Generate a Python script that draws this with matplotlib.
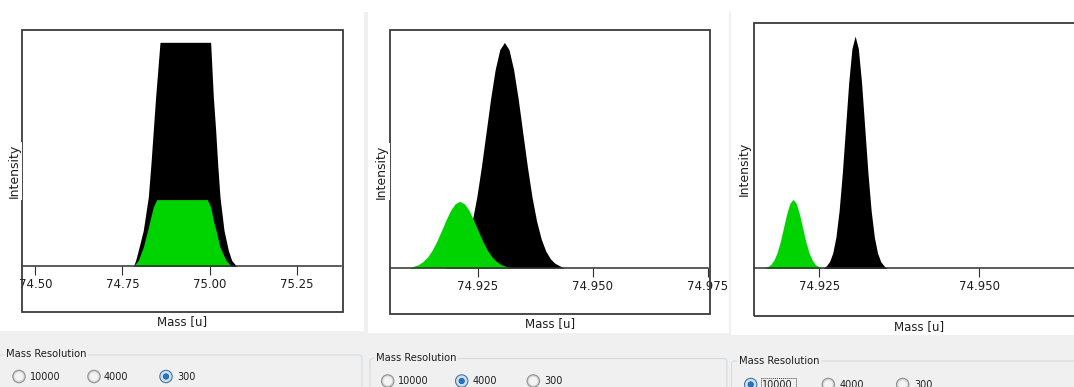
import matplotlib
matplotlib.use("Agg")
import matplotlib.pyplot as plt
from matplotlib.patches import Rectangle, Circle, FancyBboxPatch

# ---------------- data ----------------
resolution_options = ["10000", "4000", "300"]
panel_selected = ["300", "4000", "10000"]

# Panel 1 (resolution 300)
p1_black_mass = [74.7813, 74.7880, 74.7956, 74.8099, 74.8243, 74.8319, 74.8386, 74.8453, 74.8578,
                 75.0031, 75.0108, 75.0175, 75.0232, 75.0299, 75.0414, 75.0538, 75.0634, 75.0777]
p1_black_int = [0, 2.7, 7.2, 16.1, 31.0, 45.9, 60.8, 75.7, 100,
                100, 75.7, 60.8, 45.9, 31.0, 16.1, 7.2, 2.7, 0]
p1_green_mass = [74.7813, 74.7956, 74.8099, 74.8224, 74.8291, 74.8386, 74.8482,
                 74.9936, 75.0031, 75.0108, 75.0184, 75.0299, 75.0471, 75.0634]
p1_green_int = [0, 2.7, 8.6, 16.1, 20.6, 26.5, 29.8,
                29.8, 26.5, 20.6, 16.1, 8.6, 2.7, 0]

# Panel 2 (resolution 4000)
p2_black_mass = [74.9178, 74.9188, 74.9198, 74.9208, 74.9218, 74.9228, 74.9238, 74.9248, 74.9258,
                 74.9268, 74.9278, 74.9288, 74.9298, 74.9308, 74.9318, 74.9328, 74.9338, 74.9348,
                 74.9358, 74.9368, 74.9378, 74.9388, 74.9398, 74.9408, 74.9418, 74.9428, 74.9438]
p2_black_int = [0, 1.0, 2.1, 4.1, 7.5, 12.9, 20.8, 31.5, 44.9, 59.9, 75.0, 88.0, 96.8, 100,
                96.8, 88.0, 75.0, 59.9, 44.9, 31.5, 20.8, 12.9, 7.5, 4.1, 2.1, 1.0, 0]
p2_green_mass = [74.9101, 74.9111, 74.9121, 74.9131, 74.9141, 74.9151, 74.9161, 74.9171, 74.9181,
                 74.9191, 74.9201, 74.9211, 74.9221, 74.9231, 74.9241, 74.9251, 74.9261, 74.9271,
                 74.9281, 74.9291, 74.9301, 74.9311, 74.9321]
p2_green_int = [0, 0.8, 1.5, 2.9, 4.9, 7.9, 11.9, 16.5, 21.3, 25.6, 28.5, 29.6,
                28.5, 25.6, 21.3, 16.5, 11.9, 7.9, 4.9, 2.9, 1.5, 0.8, 0]

# Panel 3 (resolution 10000)
p3_black_mass = [74.9256, 74.9261, 74.9266, 74.9271, 74.9276, 74.9281, 74.9286, 74.9291, 74.9296,
                 74.9301, 74.9306, 74.9311, 74.9316, 74.9321, 74.9326, 74.9331, 74.9336, 74.9341,
                 74.9346, 74.9351, 74.9356]
p3_black_int = [0, 1.1, 2.9, 6.6, 13.5, 24.9, 41.1, 60.7, 80.1, 94.6, 100,
                94.6, 80.1, 60.7, 41.1, 24.9, 13.5, 6.6, 2.9, 1.1, 0]
p3_green_mass = [74.9164, 74.9169, 74.9174, 74.9179, 74.9184, 74.9189, 74.9194, 74.9199, 74.9204,
                 74.9209, 74.9214, 74.9219, 74.9224, 74.9229, 74.9234, 74.9239, 74.9244, 74.9249,
                 74.9254]
p3_green_int = [0, 0.7, 1.6, 3.5, 6.7, 11.5, 17.4, 23.4, 28.0, 29.7,
                28.0, 23.4, 17.4, 11.5, 6.7, 3.5, 1.6, 0.7, 0]

ticks_p1 = [74.50, 74.75, 75.00, 75.25]
ticks_p2 = [74.925, 74.950, 74.975]
ticks_p3 = [74.925, 74.950, 74.975]

xlabel_text = "Mass [u]"
ylabel_text = "Intensity"
group_title = "Mass Resolution"

# ---------------- layout / style ----------------
W, H = 1074, 387
BG = "#f0f0f0"
BLACK = "#000000"
GREEN = "#00d400"
FRAME = "#3a3a3a"
TXT = "#1e1e1e"

fig = plt.figure(figsize=(W / 100, H / 100), dpi=100, facecolor=BG)


def fx(x):
    return x / W


def fy(y):
    return 1 - y / H


# background UI axes in pixel coordinates
bg = fig.add_axes([0, 0, 1, 1], zorder=-5)
bg.set_xlim(0, W)
bg.set_ylim(H, 0)
bg.axis("off")
bg.set_facecolor(BG)

for (l, t, r, b) in [(0, 0, W, 12), (0, 12, 363.5, 330.5), (368, 12, 728.5, 332.5), (731, 12, W, 335)]:
    bg.add_patch(Rectangle((l, t), r - l, b - t, facecolor="white", edgecolor="none"))

# group boxes
groups = [
    dict(box=(-10, 355, 362, 410), title=(6, 354), radio_y=376.5,
         circles=[19, 94, 166], labels=[30, 104, 177]),
    dict(box=(370, 358.5, 727, 410), title=(376, 358), radio_y=381,
         circles=[387.7, 461.7, 533.3], labels=[398.3, 472.3, 544]),
    dict(box=(731.5, 361, 1090, 410), title=(739, 361.5), radio_y=384.5,
         circles=[750.7, 828.3, 902.7], labels=[762.3, 839.3, 914.3]),
]

for g, sel in zip(groups, panel_selected):
    l, t, r, b = g["box"]
    bg.add_patch(FancyBboxPatch((l, t), r - l, b - t,
                                boxstyle="round,pad=0,rounding_size=3",
                                fill=False, edgecolor="#d5dbe0", lw=0.8))
    bg.text(g["title"][0], g["title"][1], group_title, ha="left", va="center",
            fontsize=7.2, color=TXT,
            bbox=dict(facecolor=BG, edgecolor="none", pad=1.2))
    cy = g["radio_y"]
    for cx, lx, opt in zip(g["circles"], g["labels"], resolution_options):
        selected = (opt == sel)
        bg.add_patch(Circle((cx, cy), 6.2, facecolor="#d9d9d9",
                            edgecolor="#3d7bad" if selected else "#8f8f8f", lw=0.8))
        bg.add_patch(Circle((cx, cy), 4.3, facecolor="#cfe6f8" if selected else "#f3f3f3",
                            edgecolor="none"))
        if selected:
            bg.add_patch(Circle((cx, cy), 2.7, facecolor="#1f78cf", edgecolor="#15528f", lw=0.5))
        bg.text(lx, cy + 0.5, opt, ha="left", va="center", fontsize=7, color=TXT)
        if selected and opt == "10000":
            bg.add_patch(Rectangle((lx - 1.5, cy - 6.5), 35, 14, fill=False,
                                   edgecolor="#444444", lw=0.7, linestyle=(0, (1, 1))))

# chart panels
panels = [
    dict(frame=(21.7, 30, 342.7, 312.3), xlim=(74.461, 75.382), ticks=ticks_p1, fmt="{:.2f}",
         black=(p1_black_mass, p1_black_int), green=(p1_green_mass, p1_green_int),
         ylab=(14.2, 170.8), xlab=(182.3, 322)),
    dict(frame=(390, 30, 710, 314.3), xlim=(74.90593, 74.9755), ticks=ticks_p2, fmt="{:.3f}",
         black=(p2_black_mass, p2_black_int), green=(p2_green_mass, p2_green_int),
         ylab=(381.7, 171.7), xlab=(550, 324)),
    dict(frame=(754, 23.3, 1080, 316), xlim=(74.9148, 74.96573), ticks=ticks_p3, fmt="{:.3f}",
         black=(p3_black_mass, p3_black_int), green=(p3_green_mass, p3_green_int),
         ylab=(744.5, 169.2), xlab=(919, 326.7)),
]

for p in panels:
    l, t, r, b = p["frame"]
    ax = fig.add_axes([fx(l), fy(b), (r - l) / W, (b - t) / H], zorder=1)
    ax.set_facecolor("white")

    ax.fill_between(p["black"][0], 0, p["black"][1], color=BLACK, lw=0, zorder=2)
    ax.fill_between(p["green"][0], 0, p["green"][1], color=GREEN, lw=0, zorder=3)

    ax.set_yticks([])
    ax.set_xticks(p["ticks"])
    ax.set_xticklabels([p["fmt"].format(v) for v in p["ticks"]])
    ax.set_xlim(*p["xlim"])
    ax.set_ylim(-20.5, 105.5)

    for side in ["top", "left", "right"]:
        ax.spines[side].set_visible(False)
    sp = ax.spines["bottom"]
    sp.set_position(("data", 0))
    x0, x1 = p["xlim"]
    sp.set_bounds(x0, x0 + 0.994 * (x1 - x0))
    sp.set_color("#303030")
    sp.set_linewidth(1.1)
    sp.set_zorder(4)

    ax.tick_params(axis="x", direction="out", length=6.5, width=0.8, color="#303030",
                   labelsize=8.5, labelcolor=TXT, pad=2)

    ax.add_patch(Rectangle((0, 0), 1, 1, transform=ax.transAxes, fill=False,
                           edgecolor=FRAME, lw=1.3, clip_on=False, zorder=5))

    fig.text(fx(p["ylab"][0]), fy(p["ylab"][1]), ylabel_text, rotation=90,
             ha="center", va="center", fontsize=9, color=TXT, zorder=10,
             bbox=dict(facecolor="white", edgecolor="none", pad=1.2))
    fig.text(fx(p["xlab"][0]), fy(p["xlab"][1]), xlabel_text,
             ha="center", va="center", fontsize=8.5, color=TXT, zorder=10)

fig.savefig("out.png", dpi=100, facecolor=BG)
